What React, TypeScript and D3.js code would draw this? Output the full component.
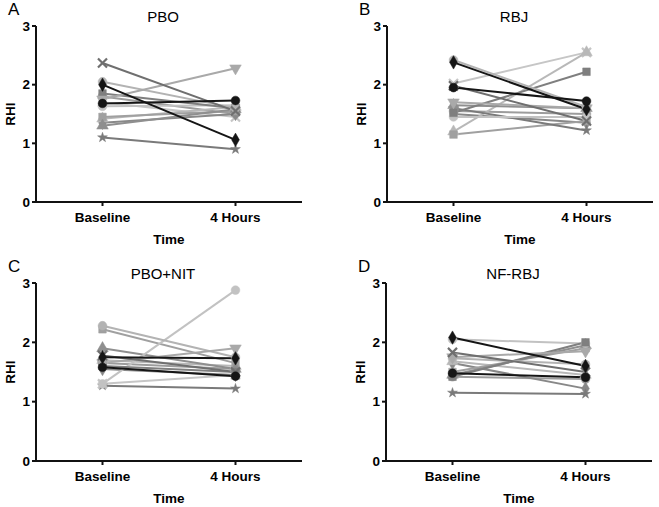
import React from "react";
import * as d3 from "d3";

const categories = ["Baseline", "4 Hours"];
const yTicks = [0, 1, 2, 3];

// Per-subject marker style (index-aligned with the data arrays)
const subjectShapes = ["circle", "diamond", "times", "triDown", "circle", "square", "circle", "triUp", "star", "square", "triUp", "diamond", "circle", "times"];
const subjectColors = ["#151515", "#151515", "#6f6f6f", "#a9a9a9", "#b3b3b3", "#7f7f7f", "#c2c2c2", "#8f8f8f", "#7a7a7a", "#a0a0a0", "#b8b8b8", "#888888", "#9c9c9c", "#c6c6c6"];

// Panel A: PBO
const pboBaseline = [1.68, 2.0, 2.37, 1.75, 2.05, 1.85, 1.63, 1.3, 1.1, 1.45, 1.42, 1.35, 1.8, 1.7];
const pboFourHours = [1.73, 1.06, 1.55, 2.28, 1.6, 1.6, 1.65, 1.58, 0.9, 1.55, 1.62, 1.5, 1.5, 1.45];
// Panel B: RBJ
const rbjBaseline = [1.95, 2.38, 1.98, 1.7, 2.42, 1.52, 1.45, 1.65, 1.6, 1.15, 1.2, 1.5, 1.55, 2.02];
const rbjFourHours = [1.72, 1.58, 1.38, 1.6, 1.62, 2.22, 1.45, 1.6, 1.22, 1.38, 2.55, 1.35, 1.5, 2.55];
// Panel C: PBO+NIT
const nitBaseline = [1.58, 1.75, 1.78, 1.65, 2.28, 1.6, 1.3, 1.9, 1.27, 2.22, 1.7, 1.55, 1.65, 1.3];
const nitFourHours = [1.43, 1.73, 1.5, 1.9, 1.75, 1.5, 2.88, 1.55, 1.22, 1.65, 1.6, 1.45, 1.55, 1.45];
// Panel D: NF-RBJ
const nfBaseline = [1.48, 2.08, 1.83, 1.75, 1.73, 1.42, 2.05, 1.45, 1.15, 1.5, 1.68, 1.65, 1.42];
const nfFourHours = [1.41, 1.6, 1.5, 1.85, 1.63, 2.0, 1.98, 1.95, 1.13, 1.9, 1.45, 1.22, 1.38];

const FONT = "'Liberation Sans', Arial, sans-serif";

function symbolPath(shape: string): { d: string; rot: number } {
  let type: any = d3.symbolCircle;
  let size = 60;
  let rot = 0;
  if (shape === "square") { type = d3.symbolSquare; size = 58; }
  else if (shape === "diamond") { type = d3.symbolDiamond; size = 52; }
  else if (shape === "triUp") { type = d3.symbolTriangle; size = 58; }
  else if (shape === "triDown") { type = d3.symbolTriangle; size = 58; rot = 180; }
  else if (shape === "times") { type = d3.symbolTimes; size = 55; }
  else if (shape === "star") { type = d3.symbolStar; size = 30; }
  return { d: d3.symbol().type(type).size(size)() as string, rot };
}

type PanelProps = {
  letter: string;
  title: string;
  axisX: number;
  axisEnd: number;
  yBottom: number;
  yTop: number;
  baseline: number[];
  fourHours: number[];
};

function Panel({ letter, title, axisX, axisEnd, yBottom, yTop, baseline, fourHours }: PanelProps) {
  const x = d3.scalePoint<string>().domain(categories).range([axisX, axisEnd]).padding(0.5);
  const y = d3.scaleLinear().domain([0, 3]).range([yBottom, yTop]);
  const line = d3.line<[string, number]>().x((d) => x(d[0]) as number).y((d) => y(d[1]));

  const order = baseline.map((_, i) => i).sort((a, b) => {
    const da = subjectColors[a] === "#151515" ? 1 : 0;
    const db = subjectColors[b] === "#151515" ? 1 : 0;
    return da - db || b - a;
  });

  const midX = (axisX + axisEnd) / 2;
  const midY = (yBottom + yTop) / 2;

  return (
    <g>
      <text x={axisX - 28} y={yTop - 11} fontFamily={FONT} fontSize={17}>{letter}</text>
      <text x={midX - 6} y={yTop - 4} fontFamily={FONT} fontSize={15} textAnchor="middle">{title}</text>
      {/* lines */}
      {order.map((i) => (
        <path
          key={"l" + i}
          d={line([[categories[0], baseline[i]], [categories[1], fourHours[i]]]) as string}
          stroke={subjectColors[i]}
          strokeWidth={2}
          fill="none"
        />
      ))}
      {/* markers */}
      {order.map((i) => {
        const s = symbolPath(subjectShapes[i]);
        const isTimes = subjectShapes[i] === "times";
        return [baseline[i], fourHours[i]].map((v, k) => (
          <path
            key={"m" + i + "-" + k}
            d={s.d}
            transform={`translate(${x(categories[k])},${y(v)}) rotate(${s.rot})`}
            fill={isTimes ? "none" : subjectColors[i]}
            stroke={subjectColors[i]}
            strokeWidth={isTimes ? 2.2 : 0.5}
          />
        ));
      })}
      {/* y axis */}
      <line x1={axisX} x2={axisX} y1={yBottom + 1} y2={yTop} stroke="#111" strokeWidth={2} />
      {yTicks.map((t) => (
        <g key={"yt" + t}>
          <line x1={axisX - 4} x2={axisX} y1={y(t)} y2={y(t)} stroke="#111" strokeWidth={2} />
          <text x={axisX - 6} y={y(t) + 4.8} textAnchor="end" fontFamily={FONT} fontSize={13.5} fontWeight="bold">{t}</text>
        </g>
      ))}
      {/* x axis */}
      <line x1={axisX - 1} x2={axisEnd} y1={yBottom} y2={yBottom} stroke="#111" strokeWidth={2} />
      {categories.map((c) => (
        <g key={"xt" + c}>
          <line x1={x(c)} x2={x(c)} y1={yBottom} y2={yBottom + 4} stroke="#111" strokeWidth={2} />
          <text x={x(c)} y={yBottom + 20} textAnchor="middle" fontFamily={FONT} fontSize={13.5} fontWeight="bold">{c}</text>
        </g>
      ))}
      <text x={midX} y={yBottom + 42} textAnchor="middle" fontFamily={FONT} fontSize={13.5} fontWeight="bold">Time</text>
      <text
        transform={`translate(${axisX - 21},${midY}) rotate(-90)`}
        textAnchor="middle"
        fontFamily={FONT}
        fontSize={13.5}
        fontWeight="bold"
      >RHI</text>
    </g>
  );
}

export default function App() {
  return (
    <svg width={659} height={507} style={{ position: "absolute", left: 0, top: 0, background: "#fff" }}>
      <rect width={659} height={507} fill="#fff" />
      <Panel letter="A" title="PBO" axisX={36} axisEnd={302} yBottom={202} yTop={26} baseline={pboBaseline} fourHours={pboFourHours} />
      <Panel letter="B" title="RBJ" axisX={387} axisEnd={653} yBottom={202} yTop={26} baseline={rbjBaseline} fourHours={rbjFourHours} />
      <Panel letter="C" title="PBO+NIT" axisX={36} axisEnd={302} yBottom={461} yTop={283} baseline={nitBaseline} fourHours={nitFourHours} />
      <Panel letter="D" title="NF-RBJ" axisX={386} axisEnd={652} yBottom={461} yTop={283} baseline={nfBaseline} fourHours={nfFourHours} />
    </svg>
  );
}
